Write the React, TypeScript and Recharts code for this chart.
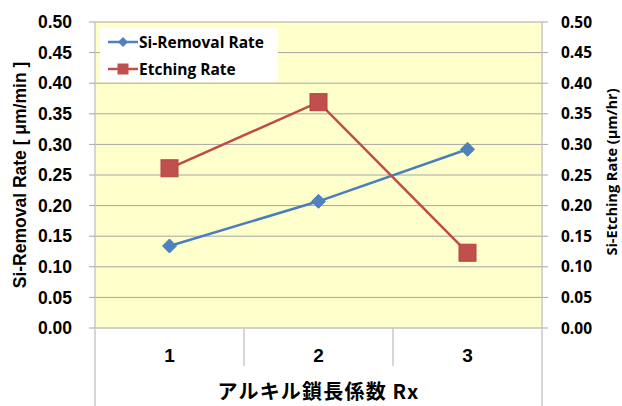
import React from "react";
import {
  LineChart,
  Line,
  XAxis,
  YAxis,
  CartesianGrid,
  Legend,
  Label,
} from "recharts";

// Rx categories and the two measured series
const categories = [1, 2, 3];
const removalRate = [0.134, 0.207, 0.292];
const etchingRate = [0.261, 0.369, 0.123];
const yTicks = [0, 0.05, 0.1, 0.15, 0.2, 0.25, 0.3, 0.35, 0.4, 0.45, 0.5];
const xTicks = [0.5, 1, 1.5, 2, 2.5, 3, 3.5];

const data = categories.map((c, i) => ({
  x: c,
  removal: removalRate[i],
  etching: etchingRate[i],
}));

const BLUE = "#4F81BD";
const RED = "#C0504D";
const GRID = "#A6A6A6";
const EDGE = "#C8C8C8";

const Diamond = (props: any) => {
  const { cx, cy } = props;
  if (cx == null || cy == null) return null;
  const r = 7;
  return (
    <polygon
      points={`${cx},${cy - r} ${cx + r},${cy} ${cx},${cy + r} ${cx - r},${cy}`}
      fill={BLUE}
      stroke="#4A7EBB"
      strokeWidth={1}
    />
  );
};

const Square = (props: any) => {
  const { cx, cy } = props;
  if (cx == null || cy == null) return null;
  const s = 17;
  return (
    <rect
      x={cx - s / 2}
      y={cy - s / 2}
      width={s}
      height={s}
      fill={RED}
      stroke="#B5403D"
      strokeWidth={1}
    />
  );
};

// integer ticks get a label, half ticks are the category separators
const CategoryTick = (props: any) => {
  const { x, y, payload } = props;
  const v = payload.value;
  if (Number.isInteger(v)) {
    return (
      <text
        x={x}
        y={y + 34}
        textAnchor="middle"
        fontFamily="'Liberation Sans', Arial, sans-serif"
        fontWeight="bold"
        fontSize={19}
        fill="#000"
      >
        {v}
      </text>
    );
  }
  const isEdge = v === 0.5 || v === 3.5;
  return <line x1={x} x2={x} y1={y} y2={isEdge ? 406 : y + 38} stroke={EDGE} strokeWidth={1.5} />;
};

const LegendBox = () => (
  <div
    style={{
      background: "#fff",
      width: 178,
      height: 54,
      boxSizing: "border-box",
      fontFamily: "'Open Sans', sans-serif",
      fontWeight: 700,
      fontSize: 15.5,
      color: "#000",
    }}
  >
    {[
      { name: "Si-Removal Rate", color: BLUE, shape: "diamond" },
      { name: "Etching Rate", color: RED, shape: "square" },
    ].map((item) => (
      <div key={item.name} style={{ display: "flex", alignItems: "center", height: 27 }}>
        <svg width={40} height={20} style={{ marginLeft: 8 }}>
          <line x1={0} x2={30} y1={10} y2={10} stroke={item.color} strokeWidth={2.5} />
          {item.shape === "diamond" ? (
            <polygon points="15,5 20,10 15,15 10,10" fill={item.color} />
          ) : (
            <rect x={9.5} y={4.5} width={11} height={11} fill={item.color} />
          )}
        </svg>
        <span style={{ marginLeft: -9 }}>{item.name}</span>
      </div>
    ))}
  </div>
);

export default function App() {
  return (
    <div style={{ position: "absolute", left: 0, top: 0, background: "#fff" }}>
      <LineChart
        width={622}
        height={406}
        data={data}
        margin={{ top: 22, right: 0, bottom: 0, left: 0 }}
      >
        <CartesianGrid vertical={false} stroke={GRID} fill="#FFFFCC" yAxisId="left" />
        <XAxis
          dataKey="x"
          type="number"
          domain={[0.5, 3.5]}
          ticks={xTicks}
          interval={0}
          height={78}
          tickLine={false}
          axisLine={false}
          tickSize={0}
          tickMargin={0}
          tick={<CategoryTick />}
        >
          <Label
            content={(p: any) => {
              const vb = p.viewBox;
              return (
                <text
                  x={vb.x + vb.width / 2}
                  y={399}
                  textAnchor="middle"
                  fontFamily="'Noto Sans CJK JP', sans-serif"
                  fontWeight="bold"
                  fontSize={20}
                  letterSpacing={1.2}
                  fill="#000"
                >
                  アルキル鎖長係数 Rx
                </text>
              );
            }}
          />
        </XAxis>
        <YAxis
          yAxisId="left"
          orientation="left"
          width={95}
          domain={[0, 0.5]}
          ticks={yTicks}
          interval={0}
          tickFormatter={(v) => v.toFixed(2)}
          tickSize={6}
          tickMargin={17}
          tickLine={{ stroke: GRID }}
          axisLine={{ stroke: EDGE, strokeWidth: 1.5 }}
          tick={{
            fill: "#000",
            fontFamily: "'Liberation Sans', Arial, sans-serif",
            fontWeight: "bold",
            fontSize: 17.5,
          }}
        >
          <Label
            content={(p: any) => {
              const vb = p.viewBox;
              const cy = vb.y + vb.height / 2;
              return (
                <text
                  x={20}
                  y={cy}
                  transform={`rotate(-90, 20, ${cy})`}
                  textAnchor="middle"
                  dominantBaseline="central"
                  fontFamily="'Liberation Sans', Arial, sans-serif"
                  fontWeight="bold"
                  fontSize={17.5}
                  fill="#000"
                >
                  Si-Removal Rate [ μm/min ]
                </text>
              );
            }}
          />
        </YAxis>
        <YAxis
          yAxisId="right"
          orientation="right"
          width={80}
          domain={[0, 0.5]}
          ticks={yTicks}
          interval={0}
          tickFormatter={(v) => v.toFixed(2)}
          tickSize={6}
          tickMargin={13}
          tickLine={{ stroke: GRID }}
          axisLine={{ stroke: EDGE, strokeWidth: 1.5 }}
          tick={{
            fill: "#000",
            fontFamily: "'Open Sans', sans-serif",
            fontWeight: "bold",
            fontSize: 15.5,
            textAnchor: "start",
          }}
        >
          <Label
            content={(p: any) => {
              const vb = p.viewBox;
              const cy = vb.y + vb.height / 2 - 3;
              return (
                <text
                  x={611}
                  y={cy}
                  transform={`rotate(-90, 611, ${cy})`}
                  textAnchor="middle"
                  dominantBaseline="central"
                  fontFamily="'Open Sans', sans-serif"
                  fontWeight="bold"
                  fontSize={14.5}
                  fill="#000"
                >
                  Si-Etching Rate (μm/hr)
                </text>
              );
            }}
          />
        </YAxis>
        <Legend
          layout="vertical"
          align="center"
          verticalAlign="middle"
          content={<LegendBox />}
          wrapperStyle={{ position: "absolute", left: 100, top: 28, width: 178 }}
        />
        <Line
          yAxisId="left"
          dataKey="removal"
          stroke="#4A7EBB"
          strokeWidth={2.5}
          dot={<Diamond />}
          activeDot={false}
          isAnimationActive={false}
        />
        <Line
          yAxisId="right"
          dataKey="etching"
          stroke="#BE4B48"
          strokeWidth={2.5}
          dot={<Square />}
          activeDot={false}
          isAnimationActive={false}
        />
      </LineChart>
    </div>
  );
}
